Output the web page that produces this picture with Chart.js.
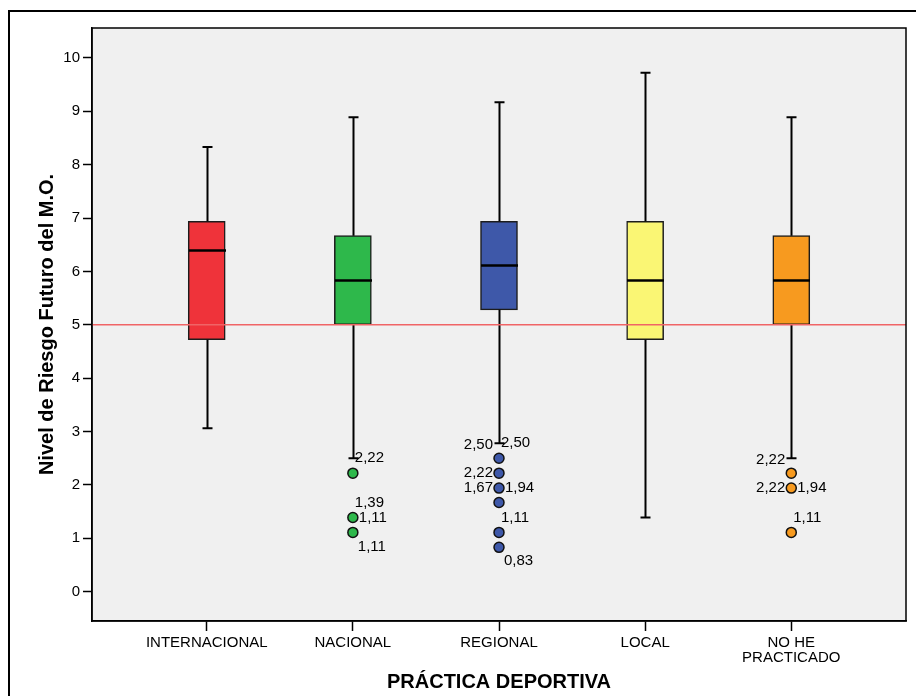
<!DOCTYPE html>
<html>
<head>
<meta charset="utf-8">
<script src="https://cdn.jsdelivr.net/npm/chart.js@4/dist/chart.umd.min.js"></script>
<style>
  html, body { margin: 0; padding: 0; background: #fff; overflow: hidden; }
  #frame { position: absolute; left: 8px; top: 10px; width: 2000px; height: 2000px;
           border-left: 2px solid #000; border-top: 2px solid #000; }
  #chart { position: absolute; left: 0; top: 0; }
</style>
</head>
<body>
<div id="frame"></div>
<canvas id="chart" width="916" height="696"></canvas>
<script>
// box plot values per sport level
const categories = ['INTERNACIONAL', 'NACIONAL', 'REGIONAL', 'LOCAL', ['NO HE', 'PRACTICADO']];
const whiskerLow = [3.06, 2.50, 2.78, 1.39, 2.50];
const q1 = [4.72, 5.00, 5.28, 4.72, 5.00];
const median = [6.39, 5.83, 6.11, 5.83, 5.83];
const q3 = [6.94, 6.67, 6.94, 6.94, 6.67];
const whiskerHigh = [8.33, 8.89, 9.17, 9.72, 8.89];
const outliers = [[], [2.22, 1.39, 1.11], [2.50, 2.22, 1.94, 1.67, 1.11, 0.83], [], [2.22, 1.94, 1.11]];

// case labels next to the outliers: text, which outlier it sits by, and on which side
const caseLabels = [[], ['2,22', '1,39', '1,11', '1,11'], ['2,50', '2,50', '2,22', '1,67', '1,94', '1,11', '0,83'], [], ['2,22', '2,22', '1,94', '1,11']];
const caseAnchor = [[], [2.22, 1.39, 1.39, 1.11], [2.50, 2.50, 2.22, 1.94, 1.94, 1.11, 0.83], [], [2.22, 1.94, 1.94, 1.11]];
const caseSide = [[], ['ne', 'ne', 'e', 'se'], ['nw', 'ne', 'w', 'w', 'e', 'ne', 'se'], [], ['nw', 'w', 'e', 'ne']];

const yTicks = [0, 1, 2, 3, 4, 5, 6, 7, 8, 9, 10];
const refValue = 5;

const boxColors = ['#ef333a', '#2eb84b', '#3e58a9', '#faf674', '#f79a1f'];
const FONT = '"Liberation Sans", Arial, Helvetica, sans-serif';

const boxPlugin = {
  id: 'boxPlugin',
  beforeDraw(chart) {
    const { ctx, chartArea: a } = chart;
    ctx.save();
    ctx.fillStyle = '#f0f0f0';
    ctx.fillRect(a.left, a.top, a.right - a.left, a.bottom - a.top);
    ctx.restore();
  },
  afterDatasetsDraw(chart) {
    const { ctx, chartArea: a, scales: { x, y } } = chart;
    const bars = chart.getDatasetMeta(0).data;
    ctx.save();
    ctx.strokeStyle = '#000';
    ctx.lineCap = 'butt';
    categories.forEach((c, i) => {
      const cx = Math.round(x.getPixelForValue(i)) + 0.5;
      const w = bars[i].width;
      // whiskers
      ctx.lineWidth = 2;
      ctx.beginPath();
      ctx.moveTo(cx, y.getPixelForValue(q3[i]));
      ctx.lineTo(cx, y.getPixelForValue(whiskerHigh[i]));
      ctx.moveTo(cx, y.getPixelForValue(q1[i]));
      ctx.lineTo(cx, y.getPixelForValue(whiskerLow[i]));
      ctx.stroke();
      // caps
      ctx.beginPath();
      [whiskerHigh[i], whiskerLow[i]].forEach(v => {
        const py = y.getPixelForValue(v);
        ctx.moveTo(cx - 5, py);
        ctx.lineTo(cx + 5, py);
      });
      ctx.stroke();
      // median
      ctx.lineWidth = 2.5;
      ctx.beginPath();
      const my = y.getPixelForValue(median[i]);
      ctx.moveTo(cx - w / 2, my);
      ctx.lineTo(cx + w / 2, my);
      ctx.stroke();
    });

    // reference line
    ctx.strokeStyle = '#f06466';
    ctx.lineWidth = 1.5;
    ctx.beginPath();
    const ry = y.getPixelForValue(refValue);
    ctx.moveTo(a.left, ry);
    ctx.lineTo(a.right, ry);
    ctx.stroke();

    // case labels
    ctx.fillStyle = '#000';
    ctx.font = '15px ' + FONT;
    ctx.textBaseline = 'middle';
    caseLabels.forEach((list, i) => {
      const cx = x.getPixelForValue(i);
      list.forEach((txt, k) => {
        const py = y.getPixelForValue(caseAnchor[i][k]);
        const side = caseSide[i][k];
        let tx = cx, ty = py;
        if (side === 'ne') { tx = cx + 2; ty = py - 15; ctx.textAlign = 'left'; }
        if (side === 'se') { tx = cx + 5; ty = py + 14; ctx.textAlign = 'left'; }
        if (side === 'e') { tx = cx + 6; ctx.textAlign = 'left'; }
        if (side === 'w') { tx = cx - 6; ctx.textAlign = 'right'; }
        if (side === 'nw') { tx = cx - 6; ty = py - 13; ctx.textAlign = 'right'; }
        ctx.fillText(txt, tx, ty);
      });
    });
    ctx.restore();
  },
  afterDraw(chart) {
    const { ctx, chartArea: a } = chart;
    ctx.save();
    ctx.strokeStyle = '#000';
    ctx.lineWidth = 1.5;
    ctx.strokeRect(a.left, a.top, a.right - a.left, a.bottom - a.top);
    ctx.restore();
  }
};

new Chart(document.getElementById('chart'), {
  type: 'bar',
  data: {
    datasets: [
      {
        type: 'bar',
        data: categories.map((c, i) => ({ x: i, y: [q1[i], q3[i]] })),
        backgroundColor: boxColors,
        borderColor: '#1c1c1c',
        borderWidth: 1.5,
        borderSkipped: false,
        barThickness: 37,
        order: 2
      },
      ...outliers.map((vals, i) => ({
        type: 'scatter',
        data: vals.map(v => ({ x: i, y: v })),
        backgroundColor: boxColors[i],
        borderColor: '#111',
        borderWidth: 1.5,
        pointRadius: 5,
        order: 1
      }))
    ]
  },
  options: {
    responsive: false,
    animation: false,
    events: [],
    layout: { padding: { top: 28, right: 10, left: 0, bottom: 0 } },
    plugins: { legend: { display: false }, tooltip: { enabled: false } },
    scales: {
      x: {
        type: 'linear',
        min: -0.785,
        max: 4.785,
        offset: false,
        afterBuildTicks: s => { s.ticks = categories.map((c, i) => ({ value: i })); },
        afterFit: s => { s.height = 75; },
        ticks: {
          callback: v => categories[v],
          color: '#000',
          font: { family: FONT, size: 15, lineHeight: 0.97 },
          padding: 5,
          autoSkip: false,
          maxRotation: 0
        },
        grid: { drawOnChartArea: false, offset: false, tickLength: 10, tickColor: '#000', tickWidth: 1.5 },
        border: { color: '#000', width: 1.5 },
        title: {
          display: true,
          text: 'PRÁCTICA DEPORTIVA',
          color: '#000',
          font: { family: FONT, size: 20, weight: 'bold' },
          padding: { top: 0, bottom: 2 }
        }
      },
      y: {
        min: -0.55,
        max: 10.56,
        afterBuildTicks: s => { s.ticks = yTicks.map(v => ({ value: v })); },
        afterFit: s => { s.width = 92; },
        ticks: {
          color: '#000',
          font: { family: FONT, size: 15 },
          padding: 3
        },
        grid: { drawOnChartArea: false, tickLength: 9, tickColor: '#000', tickWidth: 1.5 },
        border: { color: '#000', width: 1.5 },
        title: {
          display: true,
          text: 'Nivel de Riesgo Futuro del M.O.',
          color: '#000',
          font: { family: FONT, size: 20, weight: 'bold' },
          padding: { top: 35, bottom: 0 }
        }
      }
    }
  },
  plugins: [boxPlugin]
});
</script>
</body>
</html>
